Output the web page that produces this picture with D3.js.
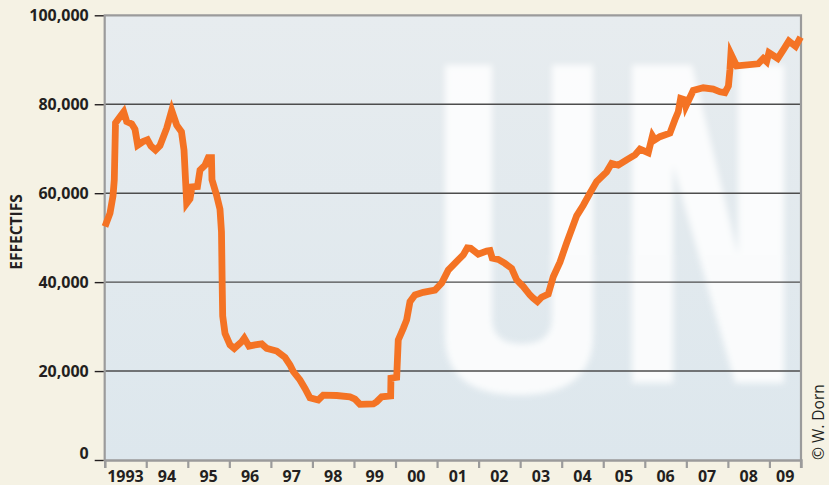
<!DOCTYPE html>
<html>
<head>
<meta charset="utf-8">
<script src="https://cdn.jsdelivr.net/npm/d3@7"></script>
<style>
  html, body { margin: 0; padding: 0; background: #f5f2e4; }
  svg { display: block; font-family: 'Open Sans', sans-serif; }
</style>
</head>
<body>
<div id="chart"></div>
<script>
// decimal years and head counts
const years = [
  1993.007, 1993.128, 1993.200, 1993.231, 1993.260, 1993.368, 1993.457, 1993.529, 1993.650, 1993.729,
  1993.794, 1993.922, 1994.030, 1994.114, 1994.223, 1994.331, 1994.492, 1994.613, 1994.733, 1994.848,
  1994.909, 1994.974, 1995.053, 1995.101, 1995.233, 1995.294, 1995.414, 1995.493, 1995.570, 1995.582,
  1995.691, 1995.775, 1995.811, 1995.830, 1995.840, 1995.895, 1996.016, 1996.119, 1996.297, 1996.360,
  1996.473, 1996.617, 1996.779, 1996.899, 1996.978, 1997.140, 1997.339, 1997.460, 1997.539, 1997.700,
  1997.821, 1997.941, 1998.141, 1998.261, 1998.584, 1998.904, 1999.024, 1999.144, 1999.465, 1999.546,
  1999.667, 1999.883, 1999.890, 2000.028, 2000.066, 2000.187, 2000.268, 2000.348, 2000.468, 2000.668,
  2000.950, 2001.111, 2001.270, 2001.510, 2001.630, 2001.727, 2001.809, 2001.991, 2002.194, 2002.273,
  2002.328, 2002.473, 2002.634, 2002.795, 2002.916, 2003.075, 2003.236, 2003.315, 2003.416, 2003.517,
  2003.676, 2003.797, 2003.958, 2004.119, 2004.360, 2004.519, 2004.680, 2004.841, 2005.082, 2005.202,
  2005.361, 2005.563, 2005.763, 2005.883, 2006.083, 2006.184, 2006.244, 2006.364, 2006.605, 2006.725,
  2006.805, 2006.863, 2006.966, 2006.990, 2007.166, 2007.407, 2007.647, 2007.808, 2007.929, 2008.013,
  2008.049, 2008.073, 2008.211, 2008.730, 2008.851, 2008.932, 2008.988, 2009.200, 2009.346, 2009.467,
  2009.630, 2009.750
];
const effectifs = [
  52500, 55500, 59400, 63000, 75800, 77200, 78300, 76100, 75600, 74400,
  70800, 71600, 72000, 70600, 69700, 70700, 74600, 78600, 75300, 73800,
  69700, 57700, 58700, 61400, 61500, 65200, 66300, 68000, 68000, 63000,
  59600, 56400, 51300, 38200, 32400, 28500, 25900, 25100, 26600, 27400,
  25600, 25900, 26100, 25100, 24900, 24500, 23100, 21400, 19900, 18000,
  16100, 14000, 13500, 14600, 14500, 14200, 13700, 12500, 12600, 13100,
  14200, 14400, 18400, 18600, 27000, 29600, 31500, 35600, 37100, 37700,
  38200, 39800, 42700, 45000, 46100, 47700, 47600, 46300, 47000, 47100,
  45400, 45100, 44200, 43100, 40500, 39000, 37100, 36400, 35600, 36600,
  37300, 41200, 44500, 48800, 54900, 57300, 60000, 62600, 64800, 66700,
  66300, 67500, 68600, 69900, 69100, 72900, 72000, 72700, 73500, 76500,
  78300, 81300, 81000, 79600, 83100, 83700, 83400, 82800, 82600, 84100,
  87700, 91300, 88600, 89100, 90300, 89600, 91600, 90300, 92400, 94200,
  93000, 95100
];
const yTicks = [0, 20000, 40000, 60000, 80000, 100000];
const yearLabels = ['1993', '94', '95', '96', '97', '98', '99', '00', '01',
  '02', '03', '04', '05', '06', '07', '08', '09'];
const yAxisTitle = 'EFFECTIFS';
const credit = '\u00a9 W. Dorn';

const width = 829, height = 485;
const margin = { left: 104.7, right: 28, top: 15.3, bottom: 25 };
const x0 = margin.left, x1 = width - margin.right;
const y0 = 460, y1 = margin.top;

const svg = d3.select('#chart').append('svg')
  .attr('width', width)
  .attr('height', height);

svg.append('rect')
  .attr('width', width).attr('height', height)
  .attr('fill', '#f5f2e4');

const defs = svg.append('defs');
const grad = defs.append('linearGradient')
  .attr('id', 'plotBg').attr('x1', 0).attr('y1', 0).attr('x2', 0).attr('y2', 1);
grad.append('stop').attr('offset', '0%').attr('stop-color', '#e7ecef');
grad.append('stop').attr('offset', '100%').attr('stop-color', '#dde7ed');

defs.append('filter').attr('id', 'soft')
  .attr('x', -0.1).attr('y', -0.1).attr('width', 1.2).attr('height', 1.2)
  .append('feGaussianBlur').attr('stdDeviation', 3);

defs.append('clipPath').attr('id', 'plotClip')
  .append('rect')
  .attr('x', x0).attr('y', y1).attr('width', x1 - x0).attr('height', y0 - y1);

const x = d3.scaleLinear()
  .domain([1993, 2009.76])
  .range([x0, x1]);

const y = d3.scaleLinear()
  .domain([0, 100000])
  .range([y0, y1]);

// plot area
svg.append('rect')
  .attr('x', x0).attr('y', y1)
  .attr('width', x1 - x0).attr('height', y0 - y1)
  .attr('fill', 'url(#plotBg)');

// faint "UN" watermark
const mark = svg.append('g')
  .attr('clip-path', 'url(#plotClip)')
  .append('g')
  .attr('filter', 'url(#soft)')
  .attr('fill', '#ffffff')
  .attr('opacity', 0.85);

mark.append('path')
  .attr('d', 'M445,65 L492,65 L492,318 Q492,344 522,344 Q552,344 552,318 L552,65 L593,65 L593,335 Q593,395 519,395 Q445,395 445,335 Z');
mark.append('path')
  .attr('d', 'M632,65 L692,65 L738,255 L738,65 L784,65 L784,383 L735,383 L673,165 L673,383 L632,383 Z');

// grid lines
svg.append('g')
  .selectAll('line')
  .data(yTicks.filter(d => d > 0 && d < 100000))
  .join('line')
  .attr('x1', x0).attr('x2', x1)
  .attr('y1', d => y(d)).attr('y2', d => y(d))
  .attr('stroke', '#4d4d4d')
  .attr('stroke-width', 1.4);

// frame
svg.append('path')
  .attr('d', `M${x0},${y0} V${y1} H${x1} V${y0}`)
  .attr('fill', 'none')
  .attr('stroke', '#9b9b9b')
  .attr('stroke-width', 2.2);

// y axis
const yAxis = d3.axisLeft(y)
  .tickValues(yTicks)
  .tickSize(9)
  .tickPadding(6)
  .tickFormat(d3.format(','));

const yele = svg.append('g')
  .attr('transform', `translate(${x0 - 1},0)`)
  .call(yAxis);
yele.select('.domain').remove();
yele.selectAll('.tick line').attr('stroke', '#231f20').attr('stroke-width', 1.4);
yele.selectAll('.tick text')
  .attr('fill', '#231f20')
  .attr('font-size', 16)
  .attr('font-weight', 700)
  .attr('font-family', "'Open Sans', sans-serif")
  .attr('dy', d => d === 0 ? '-0.12em' : '0.34em');

// x axis: ticks on year boundaries, labels centred in each year
const xAxis = d3.axisBottom(x)
  .tickValues(d3.range(1993, 2010))
  .tickSize(8)
  .tickFormat('');

const xele = svg.append('g')
  .attr('transform', `translate(0,${y0})`)
  .call(xAxis);
xele.select('.domain')
  .attr('stroke', '#9b9b9b')
  .attr('stroke-width', 2.4);
xele.selectAll('.tick line').attr('stroke', '#9b9b9b').attr('stroke-width', 2.2);
xele.append('line')
  .attr('x1', x1).attr('x2', x1).attr('y1', 0).attr('y2', 8)
  .attr('stroke', '#9b9b9b').attr('stroke-width', 2.2);

svg.append('g')
  .selectAll('text')
  .data(yearLabels)
  .join('text')
  .attr('x', (d, i) => (x(1993 + i) + Math.min(x(1994 + i), x1)) / 2)
  .attr('y', 481.5)
  .attr('text-anchor', 'middle')
  .attr('fill', '#231f20')
  .attr('font-size', 16)
  .attr('font-weight', 700)
  .text(d => d);

// the series
const line = d3.line()
  .x((d, i) => x(years[i]))
  .y(d => y(d));

svg.append('path')
  .datum(effectifs)
  .attr('d', line)
  .attr('fill', 'none')
  .attr('stroke', '#f47324')
  .attr('stroke-width', 6.8)
  .attr('stroke-linejoin', 'miter')
  .attr('stroke-miterlimit', 6);

// titles
svg.append('text')
  .attr('transform', 'translate(22,232) rotate(-90)')
  .attr('text-anchor', 'middle')
  .attr('fill', '#231f20')
  .attr('font-size', 15.5)
  .attr('font-weight', 700)
  .text(yAxisTitle);

svg.append('text')
  .attr('transform', 'translate(824,460) rotate(-90)')
  .attr('text-anchor', 'start')
  .attr('fill', '#231f20')
  .attr('font-size', 15.5)
  .text(credit);
</script>
</body>
</html>
